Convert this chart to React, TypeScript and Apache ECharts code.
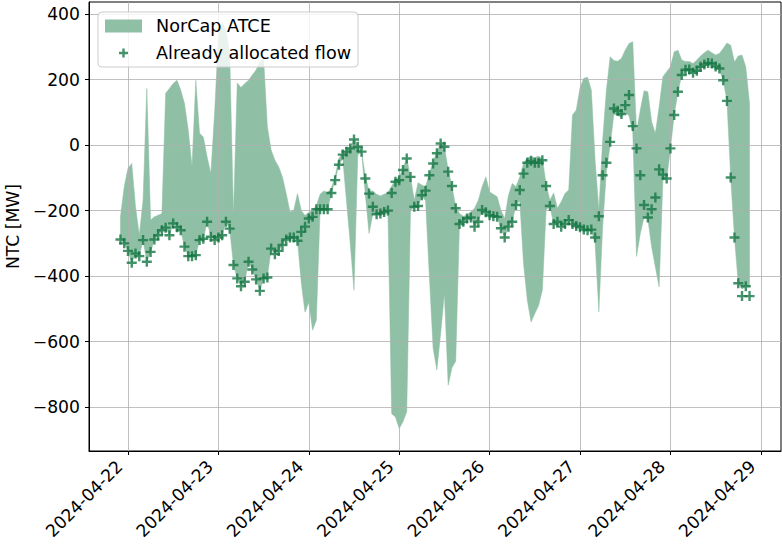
import React, { useEffect, useRef } from "react";
import * as echarts from "echarts";

// Hourly data, first point 2024-04-21 22:00 (local), one value per hour.
const startTime = [2024, 3, 21, 22]; // y, monthIndex, d, h

const flow = [
  -288, -300, -323, -359, -331, -339, -290, -356, -326, -288,
  -275, -260, -252, -275, -239, -251, -260, -310, -339, -339,
  -336, -290, -286, -234, -280, -290, -282, -275, -234, -255,
  -366, -407, -431, -417, -356, -380, -410, -445, -407, -404,
  -316, -333, -323, -305, -288, -282, -282, -292, -265, -249,
  -224, -219, -196, -196, -196, -196, -146, -107, -60, -29,
  -20, -10, 17, -5, -20, -102, -148, -188, -211, -209,
  -204, -200, -146, -112, -107, -76, -41, -97, -188, -186,
  -153, -139, -92, -56, -25, 5, -5, -81, -125, -193,
  -241, -234, -224, -221, -249, -234, -198, -205, -214, -217,
  -219, -254, -282, -249, -234, -183, -137, -87, -54, -48,
  -54, -54, -46, -125, -186, -241, -234, -249, -241, -229,
  -241, -247, -251, -258, -260, -258, -282, -217, -92, -54,
  10, 112, 105, 95, 122, 153, 58, -10, -92, -183,
  -221, -196, -160, -74, -90, -102, -10, 92, 163, 214,
  230, 231, 221, 227, 239, 246, 251, 249, 240, 234,
  198, 135, -99, -282, -422, -461, -431, -461,
];

const atceUpper = [
  -219, -127, -71, -56, -188, -275, -168, 173, -229, -219,
  -214, -209, 158, 173, 188, 198, 168, 127, 46, -66,
  198, 36, 25, -36, -87, 100, 330, 375, 350, 280,
  -215, 190, 176, 188, 198, 214, 229, 254, 265, 56,
  -15, -46, -66, -97, -148, -204, -199, -148, -200, -215,
  -205, -200, -185, -150, -140, -145, -130, -95, -40, -25,
  -15, -5, 20, 0, -18, -95, -140, -140, -150, -155,
  -150, -145, -125, -105, -97, -71, -40, -97, -168, -115,
  -122, -127, -87, -51, -20, 5, -5, -76, -125, -188,
  -209, -217, -214, -204, -193, -168, -127, -97, -143, -150,
  -158, -199, -224, -153, -117, -127, -97, -56, -38, -36,
  -38, -34, -40, -120, -168, -146, -193, -173, -148, -137,
  92, 107, 175, 204, 207, 168, -46, -199, 15, 168,
  270, 258, 256, 265, 290, 310, 316, 41, 107, 166,
  163, 71, 36, 117, 209, 224, 239, 285, 290, 260,
  255, 255, 249, 260, 272, 282, 290, 282, 275, 280,
  295, 312, 305, 254, 272, 275, 239, 127,
];

const atceLower = [
  -288, -300, -323, -359, -331, -339, -290, -356, -326, -288,
  -275, -260, -252, -275, -239, -251, -260, -310, -339, -339,
  -336, -290, -286, -234, -280, -290, -282, -275, -234, -255,
  -366, -407, -431, -417, -356, -380, -410, -445, -407, -404,
  -316, -333, -323, -305, -288, -282, -282, -292, -420, -510,
  -480, -565, -535, -200, -196, -196, -146, -107, -60, -40,
  -170, -300, -443, -30, -20, -150, -270, -210, -211, -209,
  -204, -200, -820, -830, -865, -845, -814, -200, -190, -188,
  -155, -170, -400, -620, -687, -575, -453, -733, -680, -660,
  -241, -234, -224, -221, -249, -234, -198, -205, -214, -217,
  -219, -254, -282, -249, -234, -183, -170, -361, -473, -540,
  -514, -490, -443, -198, -186, -241, -234, -249, -241, -229,
  -241, -247, -251, -258, -260, -258, -300, -509, -250, -80,
  0, 95, 90, 85, 100, 90, 40, -340, -270, -220,
  -225, -310, -372, -433, -107, -105, -10, 92, 163, 214,
  224, 225, 221, 225, 235, 240, 245, 244, 236, 230,
  198, 135, -99, -282, -422, -440, -431, -433,
];

const dayTickLabels = [
  "2024-04-22", "2024-04-23", "2024-04-24", "2024-04-25",
  "2024-04-26", "2024-04-27", "2024-04-28", "2024-04-29",
];
const yTickValues = [-800, -600, -400, -200, 0, 200, 400];

const BAND = "#8fbfa5";
const MARKER = "#157744";
const FONT = "DejaVu Sans";
const FS = 17.2;
const CROSS = "path://M3.8,0H6.2V3.8H10V6.2H6.2V10H3.8V6.2H0V3.8H3.8Z";
const CROSS_LEGEND =
  "path://M0,0H0.01V0.01H0Z M12.99,12.99H13V13H12.99Z M5.3,2H7.7V5.3H11V7.7H7.7V11H5.3V7.7H2V5.3H5.3Z";

export default function App() {
  const ref = useRef<HTMLDivElement>(null);

  useEffect(() => {
    if (!ref.current) return;
    const chart = echarts.init(ref.current, null, { renderer: "svg" });
    const HOUR = 3600 * 1000;
    // x axis in hours since the first labelled midnight (local time)
    const [y0, m0, d0] = dayTickLabels[0].split("-").map(Number);
    const day0 = new Date(y0, m0 - 1, d0).getTime();
    const t0 = new Date(startTime[0], startTime[1], startTime[2], startTime[3]).getTime();
    const xs = flow.map((_, i) => (t0 + i * HOUR - day0) / HOUR);
    const span = xs[xs.length - 1] - xs[0];
    const xMin = xs[0] - 0.05 * span;
    const xMax = xs[xs.length - 1] + 0.05 * span;
    const dayTickX = dayTickLabels.map((s) => {
      const [y, m, d] = s.split("-").map(Number);
      return (new Date(y, m - 1, d).getTime() - day0) / HOUR;
    });
    const labelFor = (v: number) => {
      let best = 0;
      for (let i = 1; i < dayTickX.length; i++) {
        if (Math.abs(dayTickX[i] - v) < Math.abs(dayTickX[best] - v)) best = i;
      }
      return dayTickLabels[best];
    };

    const bandData = xs.map((x, i) => [x, atceLower[i], atceUpper[i]]);

    const option: any = {
      animation: false,
      backgroundColor: "#ffffff",
      grid: {
        left: 89,
        top: 2,
        width: 692,
        height: 449,
        containLabel: false,
        outerBoundsMode: "none",
        show: true,
        borderColor: "#000000",
        borderWidth: 1,
        backgroundColor: "transparent",
        z: 2,
      },
      legend: {
        orient: "vertical",
        left: 98,
        top: 12,
        padding: [5, 7, 5, 7],
        itemGap: 9,
        itemWidth: 37,
        itemHeight: 13,
        backgroundColor: "rgba(255,255,255,0.8)",
        borderColor: "#cccccc",
        borderWidth: 1,
        borderRadius: 4,
        textStyle: {
          fontFamily: FONT,
          fontSize: 17.6,
          color: "#000000",
          lineHeight: 18,
          padding: [0, 0, 0, 9],
        },
        data: [
          { name: "NorCap ATCE", icon: "rect", itemStyle: { color: BAND } },
          { name: "Already allocated flow", icon: CROSS_LEGEND, itemStyle: { color: MARKER } },
        ],
        z: 10,
      },
      xAxis: {
        type: "value",
        min: xMin,
        max: xMax,
        minInterval: 24,
        maxInterval: 24,
        splitNumber: 7,
        z: 2,
        axisLine: { show: true, onZero: false, lineStyle: { color: "#000000", width: 1 } },
        axisTick: {
          show: true,
          length: 4,
          customValues: dayTickX,
          lineStyle: { color: "#000000", width: 1 },
        },
        axisLabel: {
          customValues: dayTickX,
          rotate: 45,
          margin: 4,
          padding: [0, 12, 0, 0],
          fontFamily: FONT,
          fontSize: FS,
          color: "#000000",
          hideOverlap: false,
          formatter: (v: number) => labelFor(v),
        },
        splitLine: { show: true, lineStyle: { color: "#b0b0b0", width: 0.8 } },
      },
      yAxis: {
        type: "value",
        min: -934,
        max: 437,
        minInterval: 200,
        maxInterval: 200,
        splitNumber: 7,
        z: 2,
        name: "NTC [MW]",
        nameLocation: "middle",
        nameGap: 66,
        nameTextStyle: { fontFamily: FONT, fontSize: FS, color: "#000000" },
        axisLine: { show: true, onZero: false, lineStyle: { color: "#000000", width: 1 } },
        axisTick: {
          show: true,
          length: 4,
          customValues: yTickValues,
          lineStyle: { color: "#000000", width: 1 },
        },
        axisLabel: {
          customValues: yTickValues,
          margin: 9,
          fontFamily: FONT,
          fontSize: FS,
          color: "#000000",
          formatter: (v: number) => (v < 0 ? "\u2212" + Math.abs(v) : String(v)),
        },
        splitLine: { show: true, lineStyle: { color: "#b0b0b0", width: 0.8 } },
      },
      series: [
        {
          name: "NorCap ATCE",
          type: "custom",
          data: bandData,
          encode: { x: 0, y: [1, 2] },
          silent: true,
          itemStyle: { color: BAND },
          z: 1,
          renderItem: (params: any, api: any) => {
            if (params.dataIndex !== 0) return null;
            const pts: number[][] = [];
            for (let i = 0; i < bandData.length; i++) {
              pts.push(api.coord([bandData[i][0], bandData[i][2]]));
            }
            for (let i = bandData.length - 1; i >= 0; i--) {
              pts.push(api.coord([bandData[i][0], bandData[i][1]]));
            }
            return {
              type: "polygon",
              shape: { points: pts },
              style: { fill: BAND, stroke: BAND, lineWidth: 0.5 },
            };
          },
        },
        {
          name: "Already allocated flow",
          type: "scatter",
          data: xs.map((x, i) => [x, flow[i]]),
          symbol: CROSS,
          symbolSize: 10,
          itemStyle: { color: MARKER },
          silent: true,
          z: 3,
        },
      ],
    };

    chart.setOption(option);
    return () => chart.dispose();
  }, []);

  return (
    <div
      ref={ref}
      style={{ position: "absolute", left: 0, top: 0, width: 782, height: 547 }}
    />
  );
}
